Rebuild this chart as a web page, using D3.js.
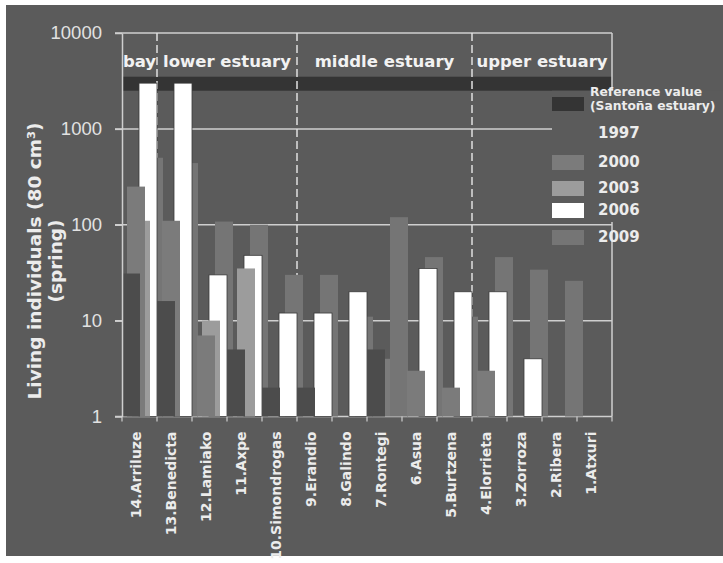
<!DOCTYPE html>
<html>
<head>
<meta charset="utf-8">
<script src="https://cdn.jsdelivr.net/npm/d3@7"></script>
<style>
  html, body { margin: 0; padding: 0; background: #fff; }
  svg { display: block; }
</style>
</head>
<body>
<div id="chart"></div>
<script>
// sampling sites, from the bay upstream
const sites = ["14.Arriluze", "13.Benedicta", "12.Lamiako", "11.Axpe", "10.Simondrogas", "9.Erandio",
  "8.Galindo", "7.Rontegi", "6.Asua", "5.Burtzena", "4.Elorrieta", "3.Zorroza", "2.Ribera", "1.Atxuri"];

const years = ["1997", "2000", "2003", "2006", "2009"];
// living individuals per 80 cm3 (spring); 1 = nothing above the log baseline
const v1997 = [31, 16, 1, 5, 2, 2, 1, 5, 1, 1, 1, 1, 1, 1];
const v2000 = [250, 110, 7, 1, 1, 1, 1, 4, 3, 2, 3, 1, 1, 1];
const v2003 = [110, 1, 10, 35, 1, 1, 1, 1, 1, 1, 1, 1, 1, 1];
const v2006 = [3000, 3000, 30, 48, 12, 12, 20, 1, 35, 20, 20, 4, 1, 1];
const v2009 = [500, 440, 108, 100, 30, 30, 11, 120, 46, 11, 46, 34, 26, 1];

// reference value (Santoña estuary)
const refRange = [2500, 3500];

const regions = ["bay", "lower estuary", "middle estuary", "upper estuary"];
const regionFirst = [0, 1, 5, 10];
const regionLast = [0, 4, 9, 13];

const yTicks = [1, 10, 100, 1000, 10000];

// styles
const bg = "#5b5b5b";
const colors = { "1997": "#4c4c4c", "2000": "#7b7b7b", "2003": "#9c9c9c", "2006": "#ffffff", "2009": "#757575" };
const refColor = "#343434";
const lineColor = "#cfcfcf";
const textColor = "#ececec";

const seriesVals = { "1997": v1997, "2000": v2000, "2003": v2003, "2006": v2006, "2009": v2009 };
// bars of each year overlap inside a site, shifted a bit to the right
const barOffset = { "1997": 0, "2000": 5, "2003": 10, "2006": 17, "2009": 23 };
const barW = 18;
const drawOrder = ["2009", "2006", "2003", "2000", "1997"];

const width = 723, height = 563;
const plotL = 122, plotR = 612, plotT = 33, plotB = 416.5;

const svg = d3.select("#chart").append("svg")
  .attr("width", width)
  .attr("height", height)
  .style("font-family", "'DejaVu Sans', Verdana, sans-serif");

svg.append("rect")
  .attr("x", 6).attr("y", 5)
  .attr("width", width - 6).attr("height", 551)
  .attr("fill", bg);

const x = d3.scaleBand().domain(sites).range([plotL, plotR]);
const y = d3.scaleLog().domain([1, 10000]).range([plotB, plotT]);
const k = x.bandwidth() / 35;

// reference band
svg.append("rect")
  .attr("x", plotL)
  .attr("y", y(refRange[1]))
  .attr("width", plotR - plotL)
  .attr("height", y(refRange[0]) - y(refRange[1]))
  .attr("fill", refColor);

// gridlines
svg.append("g").selectAll("line")
  .data(yTicks)
  .join("line")
  .attr("x1", plotL - 7).attr("x2", plotR)
  .attr("y1", d => y(d)).attr("y2", d => y(d))
  .attr("stroke", lineColor)
  .attr("stroke-width", 1.5);

// region separators
svg.append("g").selectAll("line")
  .data(regionFirst.slice(1))
  .join("line")
  .attr("x1", d => x(sites[d])).attr("x2", d => x(sites[d]))
  .attr("y1", plotT).attr("y2", plotB)
  .attr("stroke", "#e0e0e0")
  .attr("stroke-width", 1.5)
  .attr("stroke-dasharray", "8,4");

// bars
drawOrder.forEach(yr => {
  const vals = seriesVals[yr];
  svg.append("g")
    .selectAll("rect")
    .data(sites.map((s, i) => ({ site: s, v: vals[i] })).filter(d => d.v > 1))
    .join("rect")
    .attr("x", d => x(d.site) + barOffset[yr] * k)
    .attr("width", barW * k)
    .attr("y", d => y(d.v))
    .attr("height", d => y(1) - y(d.v))
    .attr("fill", colors[yr])
    .attr("stroke", yr === "2006" ? "#3a3a3a" : "none")
    .attr("stroke-width", 0.8);
});

// y axis
const yAxis = svg.append("g")
  .attr("transform", `translate(${plotL},0)`)
  .call(d3.axisLeft(y).tickValues(yTicks).tickFormat(d3.format("d")).tickSize(7).tickSizeOuter(0).tickPadding(13));
yAxis.select(".domain").attr("stroke", lineColor).attr("stroke-width", 1.5);
yAxis.selectAll(".tick line").attr("stroke", lineColor).attr("stroke-width", 1.5);
yAxis.selectAll(".tick text")
  .attr("fill", "#e2e2e2")
  .style("font-family", "'Liberation Sans', Arial, sans-serif")
  .style("font-size", "18.5px");

// x axis: ticks on site boundaries, labels turned
const bounds = sites.map(s => x(s)).concat([plotR]);
svg.append("g").selectAll("line")
  .data(bounds)
  .join("line")
  .attr("x1", d => d).attr("x2", d => d)
  .attr("y1", plotB).attr("y2", plotB + 5)
  .attr("stroke", lineColor)
  .attr("stroke-width", 1.2);

svg.append("g").selectAll("text")
  .data(sites)
  .join("text")
  .attr("transform", d => `translate(${x(d) + x.bandwidth() / 2 - 3},${plotB + 15}) rotate(-90)`)
  .attr("text-anchor", "end")
  .attr("dy", "0.35em")
  .attr("fill", textColor)
  .style("font-size", "14px")
  .style("font-weight", "bold")
  .text(d => d);

// plot frame right side
svg.append("line")
  .attr("x1", plotR).attr("x2", plotR)
  .attr("y1", plotT).attr("y2", plotB)
  .attr("stroke", lineColor)
  .attr("stroke-width", 1.5);

// region labels
svg.append("g").selectAll("text")
  .data(regions)
  .join("text")
  .attr("x", (d, i) => (x(sites[regionFirst[i]]) + x(sites[regionLast[i]]) + x.bandwidth()) / 2)
  .attr("y", 67)
  .attr("text-anchor", "middle")
  .attr("fill", "#f2f2f2")
  .style("font-size", "16.5px")
  .style("font-weight", "bold")
  .text(d => d);

// y title
const yTitle = svg.append("text")
  .attr("transform", "translate(35,261) rotate(-90)")
  .attr("text-anchor", "middle")
  .attr("fill", textColor)
  .style("font-size", "18.5px")
  .style("font-weight", "bold");
yTitle.append("tspan").attr("x", 0).attr("dy", "0.35em").text("Living individuals (80 cm³)");
yTitle.append("tspan").attr("x", 0).attr("dy", "1.1em").text("(spring)");

// legend, on a patch of background over the plot
svg.append("rect")
  .attr("x", 552).attr("y", y(refRange[0]))
  .attr("width", 171).attr("height", 222 - y(refRange[0]))
  .attr("fill", bg);

const legend = svg.append("g");
legend.append("rect")
  .attr("x", 552).attr("y", 97).attr("width", 32).attr("height", 14)
  .attr("fill", refColor);
legend.append("text")
  .attr("x", 590).attr("y", 96)
  .attr("fill", textColor)
  .style("font-size", "12.3px").style("font-weight", "bold")
  .text("Reference value");
legend.append("text")
  .attr("x", 590).attr("y", 110)
  .attr("fill", textColor)
  .style("font-size", "12.3px").style("font-weight", "bold")
  .text("(Santoña estuary)");

const legendY = { "1997": 133, "2000": 162, "2003": 188, "2006": 210, "2009": 237 };
years.forEach(yr => {
  legend.append("rect")
    .attr("x", 552).attr("y", legendY[yr] - 7).attr("width", 32).attr("height", 15)
    .attr("fill", yr === "1997" ? bg : colors[yr]);
  legend.append("text")
    .attr("x", 598).attr("y", legendY[yr])
    .attr("dy", "0.35em")
    .attr("fill", textColor)
    .style("font-size", "15px").style("font-weight", "bold")
    .text(yr);
});
</script>
</body>
</html>
